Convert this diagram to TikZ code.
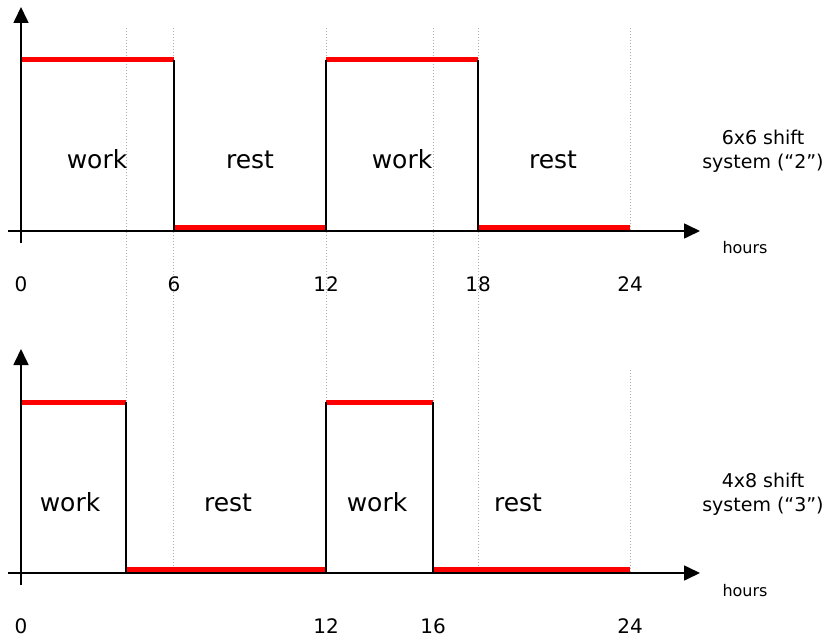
\documentclass[tikz,border=0pt]{standalone}
\usepackage{fontspec}
\setmainfont{DejaVu Sans}
\usetikzlibrary{arrows.meta}
\begin{document}
\begin{tikzpicture}[x=1pt,y=-1pt,
  axis/.style={line width=1.6pt, -{Triangle[length=16pt,width=15pt]}},
  redline/.style={color=red, line width=5pt},
  edge/.style={color=black, line width=1.6pt},
  gridline/.style={color=black!32, line width=1pt, dash pattern=on 1pt off 2pt},
  big/.style={font=\fontsize{25}{28}\selectfont, anchor=base},
  num/.style={font=\fontsize{20}{22}\selectfont, anchor=base},
  small/.style={font=\fontsize{16}{18}\selectfont, anchor=base},
  side/.style={font=\fontsize{19}{24}\selectfont, align=center},
]
\useasboundingbox (0,0) rectangle (829,639);
% dotted guides
\foreach \gx in {126,173,326,433,478}
  \draw[gridline] (\gx,28) -- (\gx,573);
\draw[gridline] (630,28) -- (630,231);
\draw[gridline] (630,370) -- (630,573);

% ---- top chart (6x6) ----
\draw[redline] (21,60) -- (174,60);
\draw[redline] (174,227) -- (326,227);
\draw[redline] (326,60) -- (478,60);
\draw[redline] (478,227) -- (630,227);
\draw[edge] (174,60) -- (174,231);
\draw[edge] (326,60) -- (326,231);
\draw[edge] (478,60) -- (478,231);
\draw[axis] (21,243) -- (21,7);
\draw[axis] (8,231) -- (700,231);

\node[big] (w1) at (97,169) {work};
\node[big] (r1) at (250,169) {rest};
\node[big] (w2) at (402,169) {work};
\node[big] (r2) at (553,169) {rest};
\node[side] (s1) at (763,151) {6x6 shift\\system (“2”)};
\node[small] (h1) at (745,253) {hours};
\node[num] (t0) at (21,291) {0};
\node[num] (t6) at (174,291) {6};
\node[num] (t12) at (326,291) {12};
\node[num] (t18) at (478,291) {18};
\node[num] (t24) at (630,291) {24};

% ---- bottom chart (4x8) ----
\draw[redline] (21,402) -- (126,402);
\draw[redline] (126,569) -- (326,569);
\draw[redline] (326,402) -- (433,402);
\draw[redline] (433,569) -- (630,569);
\draw[edge] (126,402) -- (126,573);
\draw[edge] (326,402) -- (326,573);
\draw[edge] (433,402) -- (433,573);
\draw[axis] (21,585) -- (21,349);
\draw[axis] (8,573) -- (700,573);

\node[big] (w3) at (70,511) {work};
\node[big] (r3) at (228,511) {rest};
\node[big] (w4) at (377,511) {work};
\node[big] (r4) at (518,511) {rest};
\node[side] (s2) at (763,494) {4x8 shift\\system (“3”)};
\node[small] (h2) at (745,596) {hours};
\node[num] (b0) at (21,633) {0};
\node[num] (b12) at (326,633) {12};
\node[num] (b16) at (433,633) {16};
\node[num] (b24) at (630,633) {24};
\end{tikzpicture}
\end{document}
